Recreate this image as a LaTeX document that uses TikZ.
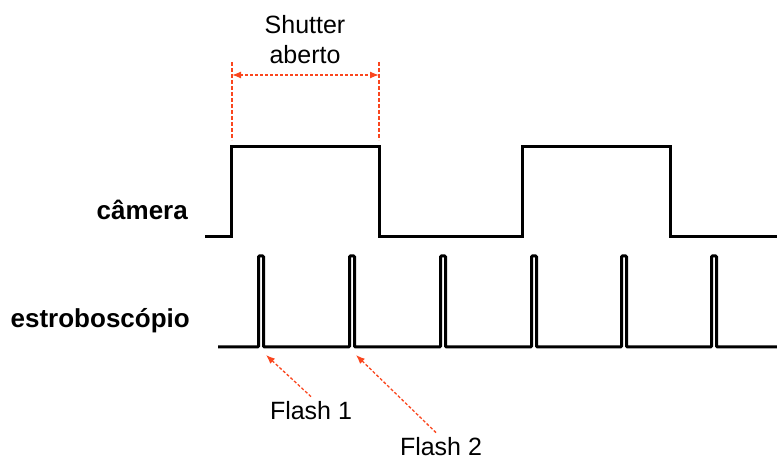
\documentclass[tikz,border=0pt]{standalone}
\usepackage{fontspec}
\setmainfont{Liberation Sans}
\usetikzlibrary{arrows.meta, positioning}
\definecolor{flashred}{RGB}{250,70,30}

\begin{document}
\begin{tikzpicture}[x=1pt, y=-1pt,
    signal/.style={line width=3pt, black, line join=miter},
    label/.style={font=\fontsize{26}{30}\selectfont\bfseries, inner sep=0pt, anchor=base east},
    note/.style={font=\fontsize{25}{30}\selectfont, align=center, inner sep=5pt},
    guide/.style={flashred, line width=1.3pt, dash pattern=on 3pt off 2pt},
    arr/.style={guide, -{Latex[length=9pt, width=7pt]}}
  ]
    \useasboundingbox (0,0) rectangle (777,462);

    % signals
    \draw[signal] (205,237) -- (231.5,237) -- (231.5,146.5) -- (379.5,146.5) -- (379.5,237)
        -- (522,237) -- (522,146.5) -- (670,146.5) -- (670,237) -- (777,237);
    \draw[signal, rounded corners=1pt] (218,347)
        \foreach \x in {258.5,349.5,440.5,531.5,621.5,711.5} { -- (\x,347) -- (\x,256) -- (\x+5,256) -- (\x+5,347) }
        -- (777,347);

    \node[label] (cam)    at (188,220) {câmera};
    \node[label] (strobe) at (190,328) {estroboscópio};

    % shutter window
    \coordinate (open)  at (232,62);
    \coordinate (close) at (379,62);
    \draw[guide, dash pattern=on 4pt off 2pt] (open) -- ++(0,78);
    \draw[guide, dash pattern=on 4pt off 2pt] (close) -- ++(0,78);
    \draw[guide, {Latex[length=9pt, width=7pt]}-{Latex[length=9pt, width=7pt]}]
        ([yshift=-13pt]open) -- ([yshift=-13pt]close);
    \node[note] (shutter) at (305,40) {Shutter\\aberto};

    % flashes
    \coordinate (p1) at (266,355);
    \coordinate (p2) at (356,355);
    \node[note] (flash1) at (311,411) {Flash 1};
    \node[note] (flash2) at (441,447) {Flash 2};
    \draw[arr] (flash1.north) -- (p1);
    \draw[arr] ([xshift=-5pt]flash2.north) -- (p2);
  \end{tikzpicture}
\end{document}
